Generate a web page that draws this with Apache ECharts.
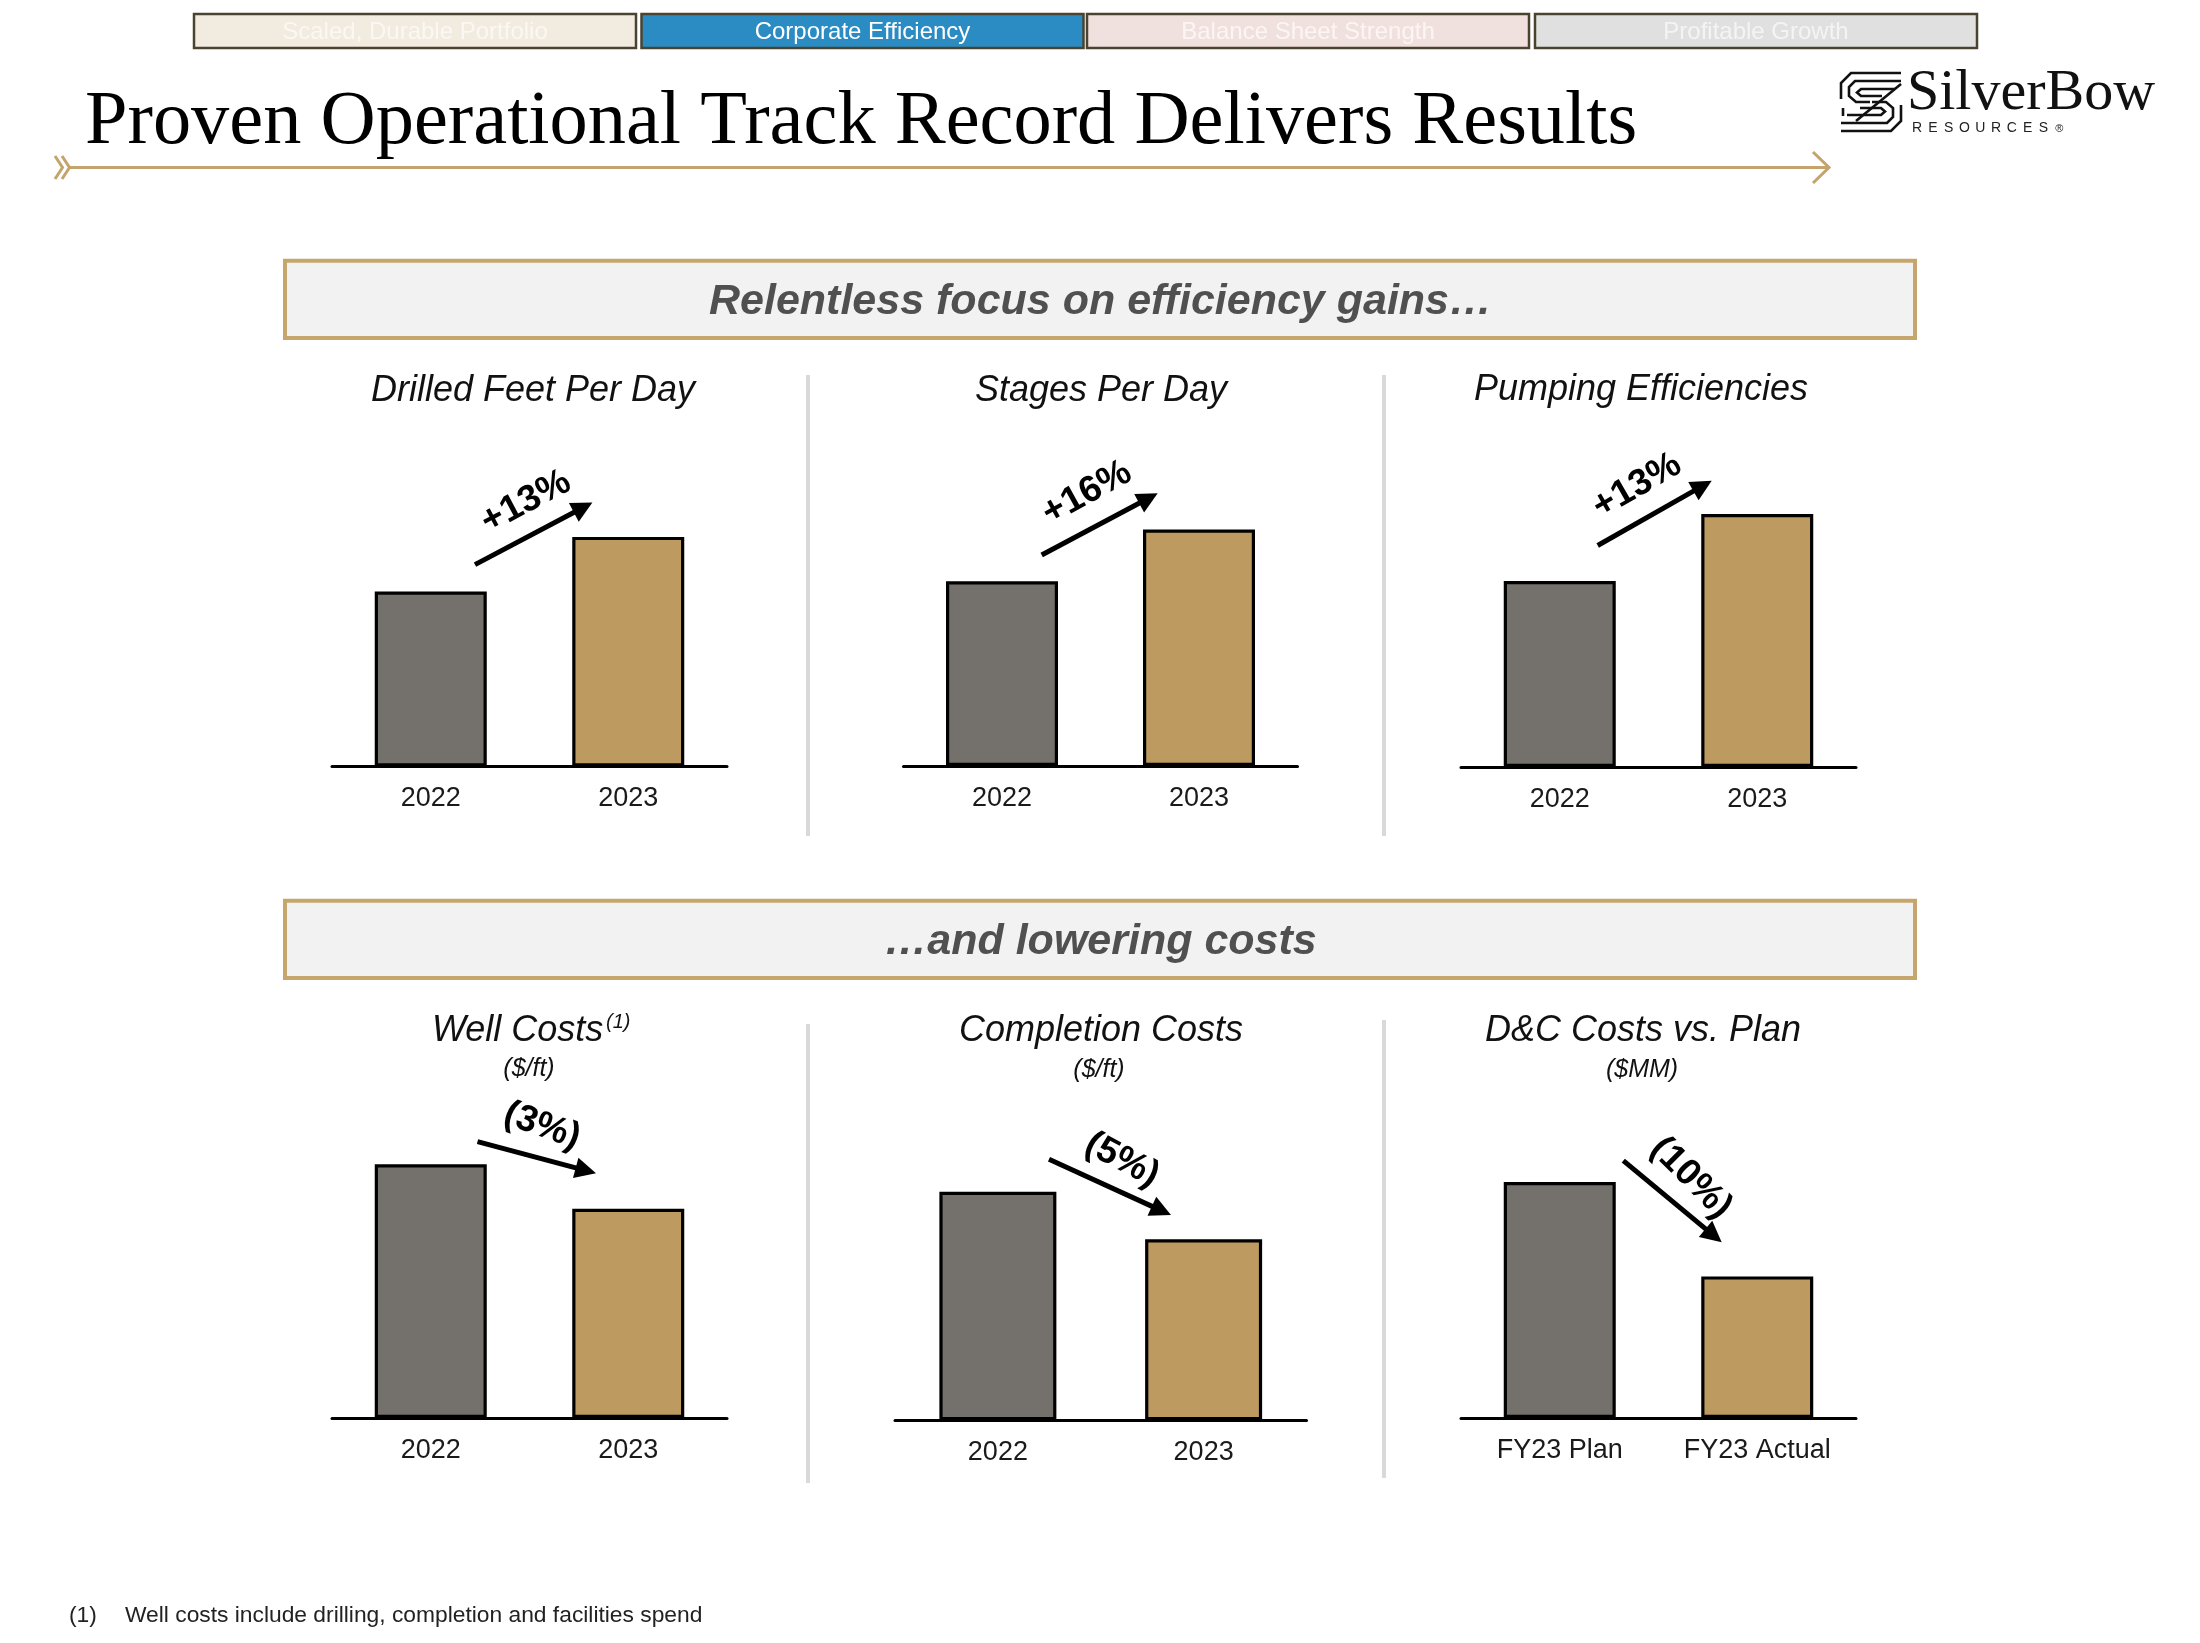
<!DOCTYPE html>
<html>
<head>
<meta charset="utf-8">
<script src="https://cdn.jsdelivr.net/npm/echarts/dist/echarts.min.js"></script>
<style>
html,body{margin:0;padding:0;background:#ffffff;}
#c{width:2200px;height:1643px;}
</style>
</head>
<body>
<div id="c"></div>
<script>
// ---------------- DATA ----------------
const pageTitle = 'Proven Operational Track Record Delivers Results';
const tabLabels = ['Scaled, Durable Portfolio', 'Corporate Efficiency', 'Balance Sheet Strength', 'Profitable Growth'];
const sectionLabels = ['Relentless focus on efficiency gains\u2026', '\u2026and lowering costs'];
const chartTitles = ['Drilled Feet Per Day', 'Stages Per Day', 'Pumping Efficiencies', 'Well Costs', 'Completion Costs', 'D&C Costs vs. Plan'];
const chartUnits = ['', '', '', '($/ft)', '($/ft)', '($MM)'];
const yearCategories = ['2022', '2023'];
const planCategories = ['FY23 Plan', 'FY23 Actual'];
// bar values, indexed to the first bar = 100
const drilledFeetPerDay = [100, 131.2];
const stagesPerDay = [100, 128.0];
const pumpingEfficiencies = [100, 136.0];
const wellCosts = [100, 82.5];
const completionCosts = [100, 79.2];
const dcCostsVsPlan = [100, 60.0];
const changeLabels = ['+13%', '+16%', '+13%', '(3%)', '(5%)', '(10%)'];
const footnoteMark = '(1)';
const footnoteText = 'Well costs include drilling, completion and facilities spend';

// ---------------- LAYOUT / STYLE ----------------
const SANS = '"Liberation Sans", Arial, Helvetica, sans-serif';
const SERIF = '"Liberation Serif", "Times New Roman", serif';
const GRAY = '#74706b';
const GOLD = '#bc9a60';
const LINE_GOLD = '#c4a46c';

const seriesData = [drilledFeetPerDay, stagesPerDay, pumpingEfficiencies, wellCosts, completionCosts, dcCostsVsPlan];
const seriesCats = [yearCategories, yearCategories, yearCategories, yearCategories, yearCategories, planCategories];

const panels = [
  {left: 332,   right: 727,    top: 420,  axisY: 766.5,  yMax: 198.0, barW: 112, tx: 533,  ty: 390.5},
  {left: 903.5, right: 1297.5, top: 420,  axisY: 766,    yMax: 187.3, barW: 112, tx: 1101, ty: 390.5},
  {left: 1461,  right: 1856,   top: 420,  axisY: 767,    yMax: 186.6, barW: 112, tx: 1641, ty: 389.5},
  {left: 332,   right: 727,    top: 1090, axisY: 1418,   yMax: 129.3, barW: 112, tx: 518,  ty: 1030.5},
  {left: 895,   right: 1306.5, top: 1090, axisY: 1420.3, yMax: 144.5, barW: 117, tx: 1101, ty: 1030.5},
  {left: 1461,  right: 1856,   top: 1090, axisY: 1418,   yMax: 139.0, barW: 112, tx: 1643, ty: 1030.5}
];
const unitPos = [null, null, null, [529, 1069], [1099, 1070], [1642, 1070]];

const arrows = [
  {s: [475, 564.6],    e: [592.4, 502.6],  lx: 526,  ly: 502,  rot: 28},
  {s: [1041.7, 555],   e: [1157.7, 493.3], lx: 1087, ly: 493,  rot: 29},
  {s: [1597.7, 545.5], e: [1711.7, 480.8], lx: 1637, ly: 486,  rot: 30},
  {s: [477.5, 1141.7], e: [596, 1173.3],   lx: 542,  ly: 1126, rot: -20},
  {s: [1049, 1159.3],  e: [1171, 1215],    lx: 1122, ly: 1160, rot: -28},
  {s: [1623.3, 1160.7],e: [1721.7, 1242.3],lx: 1691, ly: 1178, rot: -45}
];

const tabs = [
  {x: 194,  w: 442, fill: '#f2ebdf', text: '#fbf8f3'},
  {x: 641.5,w: 442, fill: '#2b8cc4', text: '#ffffff'},
  {x: 1087, w: 442, fill: '#f1e1de', text: '#fbf5f4'},
  {x: 1535, w: 442, fill: '#e0e0e0', text: '#f4f4f4'}
];

// ---------------- BUILD ----------------
const chart = echarts.init(document.getElementById('c'), null, {renderer: 'canvas'});

const grids = [], xAxes = [], yAxes = [], series = [];
panels.forEach((p, i) => {
  grids.push({left: p.left, top: p.top, width: p.right - p.left, height: p.axisY - p.top,
              containLabel: false, outerBoundsMode: 'none'});
  xAxes.push({
    type: 'category', gridIndex: i, data: seriesCats[i],
    axisLine: {show: true, lineStyle: {color: '#000', width: 3}},
    axisTick: {show: false},
    axisLabel: {fontSize: 27, color: '#1a1a1a', margin: 19, fontFamily: SANS},
    splitLine: {show: false}
  });
  yAxes.push({type: 'value', gridIndex: i, min: 0, max: p.yMax, show: false, splitLine: {show: false}});
  series.push({
    type: 'bar', xAxisIndex: i, yAxisIndex: i, barWidth: p.barW, silent: true,
    data: seriesData[i].map((v, k) => ({value: v, itemStyle: {color: k === 0 ? GRAY : GOLD}})),
    itemStyle: {borderColor: '#000', borderWidth: 3.2},
    z: 1
  });
});

const g = [];
// tabs
tabs.forEach((t, i) => {
  g.push({type: 'rect', silent: true, shape: {x: t.x, y: 14, width: t.w, height: 34},
          style: {fill: t.fill, stroke: '#4b4331', lineWidth: 2.5}});
  g.push({type: 'text', silent: true, x: t.x + t.w / 2, y: 32,
          style: {text: tabLabels[i], fill: t.text, font: '24px ' + SANS, align: 'center', verticalAlign: 'middle'}});
});
// title
g.push({type: 'text', silent: true, x: 85, y: 123,
        style: {text: pageTitle, fill: '#000', font: '76.4px ' + SERIF, align: 'left', verticalAlign: 'middle'}});
// gold arrow line under title
g.push({type: 'line', silent: true, shape: {x1: 70, y1: 167.5, x2: 1828, y2: 167.5}, style: {stroke: LINE_GOLD, lineWidth: 3}});
g.push({type: 'polyline', silent: true, shape: {points: [[55, 156], [62.5, 167.5], [55, 179]]}, style: {stroke: LINE_GOLD, lineWidth: 3, fill: null}});
g.push({type: 'polyline', silent: true, shape: {points: [[62, 156], [69.5, 167.5], [62, 179]]}, style: {stroke: LINE_GOLD, lineWidth: 3, fill: null}});
g.push({type: 'polyline', silent: true, shape: {points: [[1813, 152], [1829, 167.5], [1813, 183]]}, style: {stroke: LINE_GOLD, lineWidth: 3, fill: null}});

// logo
const logoLines = [
  [[1901, 73], [1851, 73], [1841, 83], [1841, 99]],
  [[1901, 81], [1855, 81], [1849, 87], [1849, 96], [1856, 102], [1870, 102]],
  [[1895, 89], [1861, 89], [1857, 92.5], [1861, 96], [1882, 96]],
  [[1856, 121], [1901, 84]],
  [[1841, 131], [1891, 131], [1901, 121], [1901, 105]],
  [[1841, 123], [1887, 123], [1893, 117], [1893, 108], [1886, 102], [1872, 102]],
  [[1847, 115], [1881, 115], [1885, 111.5], [1881, 108], [1860, 108]],
  [[1843, 108], [1843, 116]]
];
logoLines.forEach(pts => g.push({type: 'polyline', silent: true, shape: {points: pts}, style: {stroke: '#111', lineWidth: 2.6, fill: null}}));
g.push({type: 'text', silent: true, x: 1907, y: 94,
        style: {text: 'SilverBow', fill: '#111', font: '58px ' + SERIF, align: 'left', verticalAlign: 'middle'}});
const resWord = 'RESOURCES\u00ae';
for (let k = 0; k < resWord.length; k++) {
  g.push({type: 'text', silent: true, x: 1917 + k * 15.8, y: 128.5,
          style: {text: resWord[k], fill: '#222', font: (k === resWord.length - 1 ? '11px ' : '14px ') + SANS, align: 'center', verticalAlign: 'middle'}});
}

// section boxes
[[260.7, 338], [900.7, 978]].forEach((b, i) => {
  g.push({type: 'rect', silent: true, shape: {x: 285, y: b[0], width: 1630, height: b[1] - b[0]},
          style: {fill: '#f2f2f2', stroke: '#c6a66c', lineWidth: 4}});
  g.push({type: 'text', silent: true, x: 1100.5, y: (b[0] + b[1]) / 2 + 2.5,
          style: {text: sectionLabels[i], fill: '#505050', font: 'italic bold 43px ' + SANS, align: 'center', verticalAlign: 'middle'}});
});

// dividers
[[808, 375, 836], [1384, 375, 836], [808, 1024, 1483], [1384, 1020, 1478]].forEach(d => {
  g.push({type: 'line', silent: true, shape: {x1: d[0], y1: d[1], x2: d[0], y2: d[2]}, style: {stroke: '#d9d9d9', lineWidth: 4}});
});

// chart titles
panels.forEach((p, i) => {
  if (i === 3) {
    g.push({type: 'text', silent: true, x: 432, y: p.ty,
            style: {text: chartTitles[i], fill: '#111', font: 'italic 36px ' + SANS, align: 'left', verticalAlign: 'middle'}});
    g.push({type: 'text', silent: true, x: 606, y: 1022,
            style: {text: footnoteMark, fill: '#111', font: 'italic 20px ' + SANS, align: 'left', verticalAlign: 'middle'}});
  } else {
    g.push({type: 'text', silent: true, x: p.tx, y: p.ty,
            style: {text: chartTitles[i], fill: '#111', font: 'italic 36px ' + SANS, align: 'center', verticalAlign: 'middle'}});
  }
  if (unitPos[i]) {
    g.push({type: 'text', silent: true, x: unitPos[i][0], y: unitPos[i][1],
            style: {text: chartUnits[i], fill: '#111', font: 'italic 25px ' + SANS, align: 'center', verticalAlign: 'middle'}});
  }
});

// change arrows + labels
arrows.forEach((a, i) => {
  const [x1, y1] = a.s, [x2, y2] = a.e;
  const ang = Math.atan2(y2 - y1, x2 - x1);
  const hl = 21, hw = 10.5;
  const bx = x2 - hl * Math.cos(ang), by = y2 - hl * Math.sin(ang);
  const nx = -Math.sin(ang), ny = Math.cos(ang);
  g.push({type: 'line', silent: true, shape: {x1: x1, y1: y1, x2: bx + 2 * Math.cos(ang), y2: by + 2 * Math.sin(ang)},
          style: {stroke: '#000', lineWidth: 5}});
  g.push({type: 'polygon', silent: true, shape: {points: [[x2, y2], [bx + hw * nx, by + hw * ny], [bx - hw * nx, by - hw * ny]]},
          style: {fill: '#000'}});
  g.push({type: 'text', silent: true, x: a.lx, y: a.ly, rotation: a.rot * Math.PI / 180,
          style: {text: changeLabels[i], fill: '#000', font: 'bold 37px ' + SANS, align: 'center', verticalAlign: 'middle'}});
});

// footnote
g.push({type: 'text', silent: true, x: 69, y: 1616,
        style: {text: footnoteMark, fill: '#222', font: '22.8px ' + SANS, align: 'left', verticalAlign: 'middle'}});
g.push({type: 'text', silent: true, x: 125, y: 1616,
        style: {text: footnoteText, fill: '#222', font: '22.8px ' + SANS, align: 'left', verticalAlign: 'middle'}});

chart.setOption({
  animation: false,
  backgroundColor: '#ffffff',
  grid: grids,
  xAxis: xAxes,
  yAxis: yAxes,
  series: series,
  graphic: {elements: g}
});
</script>
</body>
</html>
